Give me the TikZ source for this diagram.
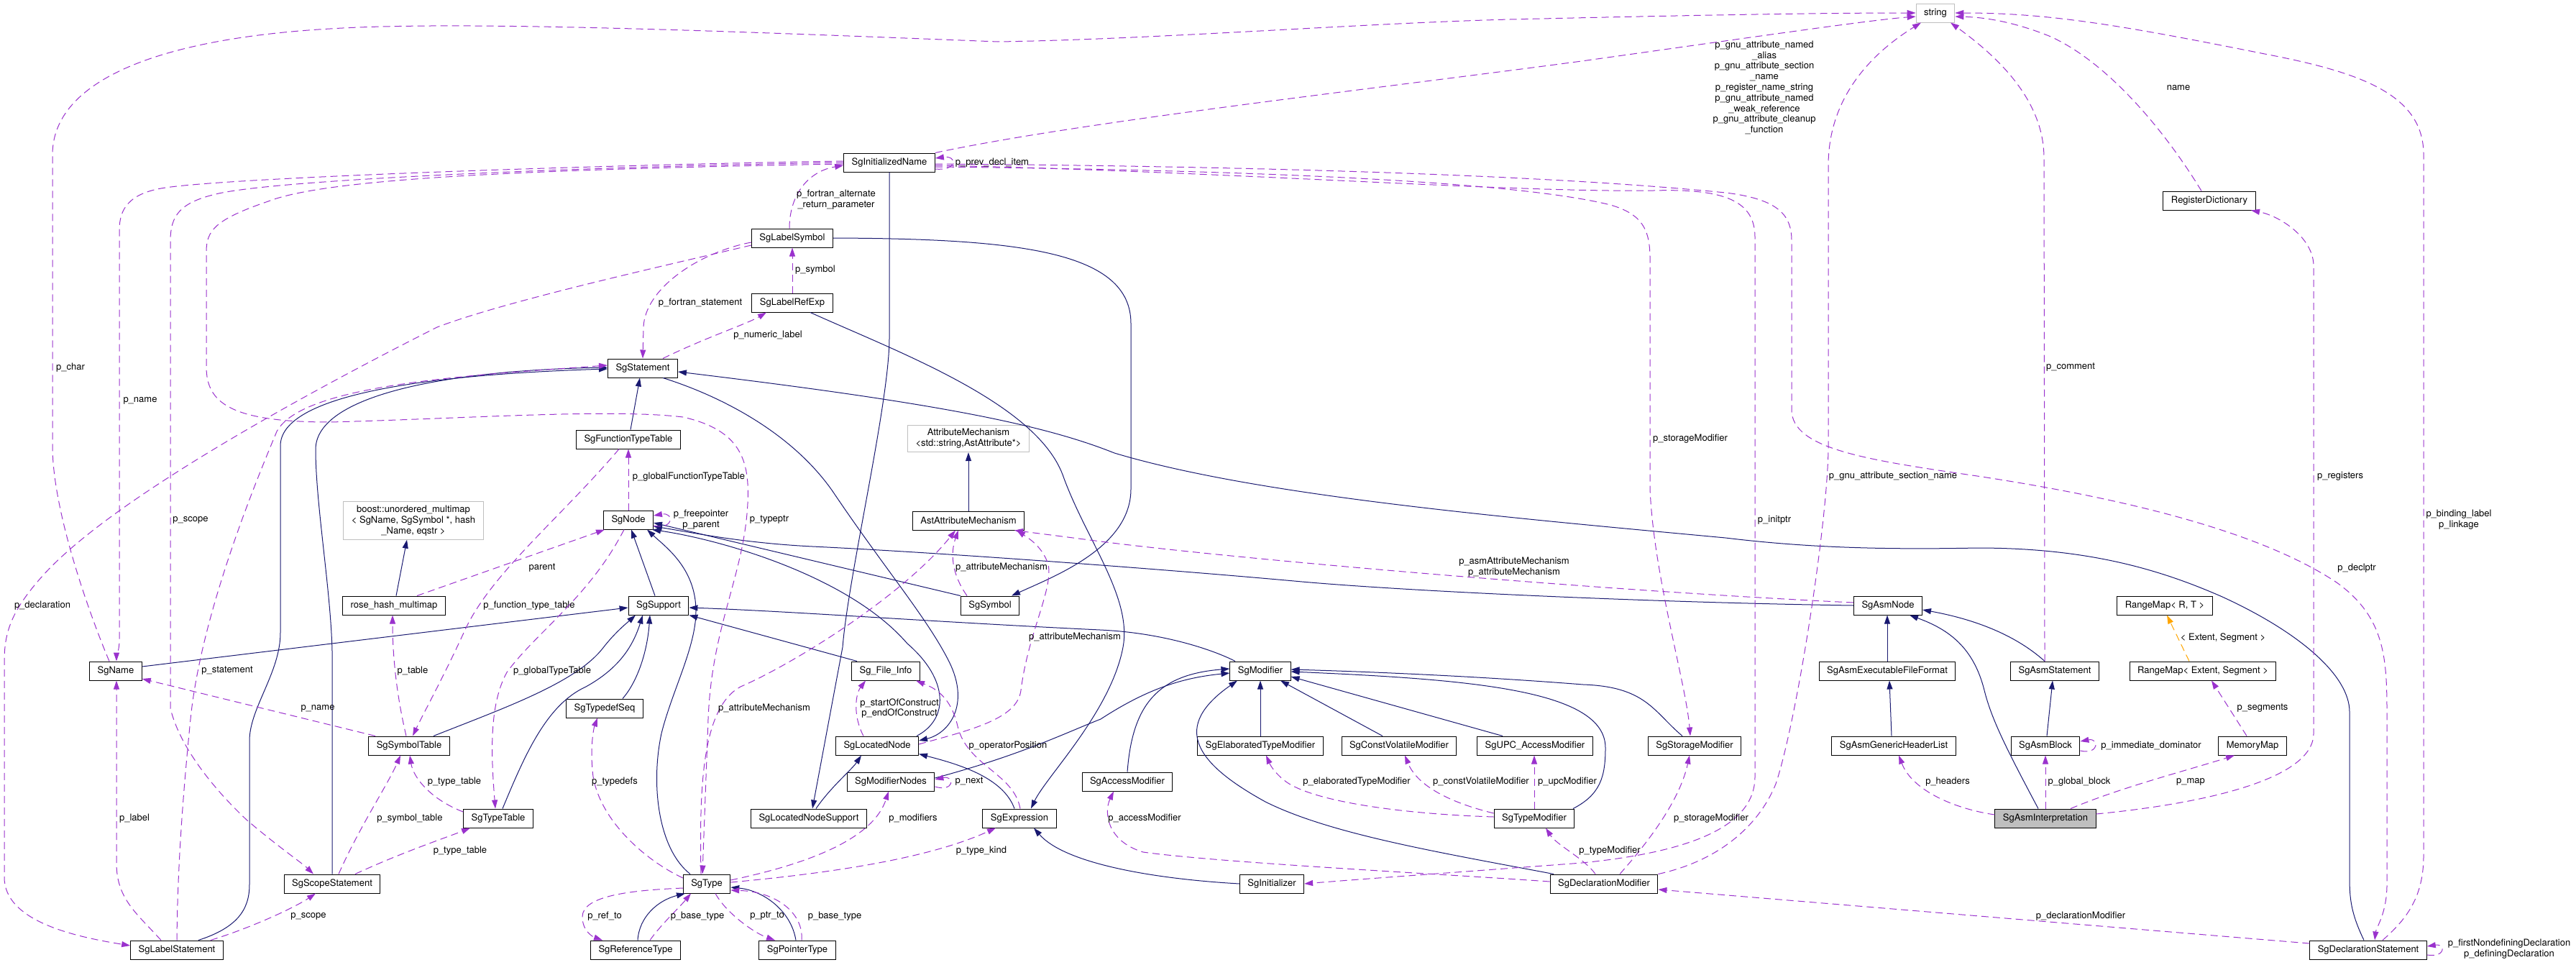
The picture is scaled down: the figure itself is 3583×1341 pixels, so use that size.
\documentclass[tikz,border=0pt]{standalone}
\usepackage{fontspec}
\setmainfont{TeX Gyre Heros}
\usetikzlibrary{arrows.meta}
\definecolor{inhcol}{HTML}{191970}
\definecolor{usecol}{HTML}{9A32CD}
\definecolor{tplcol}{HTML}{FFA500}
\definecolor{extcol}{HTML}{BFBFBF}

\begin{document}
\begin{tikzpicture}[
    x=1pt, y=-1pt,
    cls/.style={rectangle, draw=black, line width=1pt, fill=white, inner xsep=11pt, inner ysep=0pt, minimum height=26pt, font=\fontsize{13}{15}\selectfont},
    ext/.style={cls, draw=extcol, align=center, inner ysep=5pt},
    cur/.style={cls, fill=extcol},
    inh/.style={draw=inhcol, line width=1pt, -{Triangle[length=12pt,width=8pt]}},
    use/.style={draw=usecol, line width=1pt, dash pattern=on 10pt off 6pt, -{Triangle[length=12pt,width=8pt]}},
    tpl/.style={draw=tplcol, line width=1pt, dash pattern=on 10pt off 6pt, -{Triangle[length=12pt,width=8pt]}},
    lbl/.style={font=\fontsize{13}{14.8}\selectfont, inner sep=0pt, align=center}
]
\useasboundingbox (0,0) rectangle (3583,1341);

% Classes - top rows
\node[ext] (string) at (2692,18) {string};
\node[cls] (SgInitializedName) at (1237,226) {SgInitializedName};
\node[cls] (RegisterDictionary) at (3073,279) {RegisterDictionary};
\node[cls] (SgLabelSymbol) at (1102,331) {SgLabelSymbol};
\node[cls] (SgLabelRefExp) at (1102,421) {SgLabelRefExp};
\node[cls] (SgStatement) at (894,512) {SgStatement};
\node[cls] (SgFunctionTypeTable) at (874,611) {SgFunctionTypeTable};
\node[ext] (AttributeMechanism) at (1347,610) {AttributeMechanism\\<std::string,AstAttribute*>};
\node[ext] (boostmap) at (575,724) {boost::unordered\_multimap\\< SgName, SgSymbol *, hash\\\_Name, eqstr >};
\node[cls] (SgNode) at (874,723) {SgNode};
\node[cls] (AstAttributeMechanism) at (1347,724) {AstAttributeMechanism};
\node[cls] (rosemap) at (548,842) {rose\_hash\_multimap};
\node[cls] (SgSupport) at (916,842) {SgSupport};
\node[cls] (SgSymbol) at (1377,842) {SgSymbol};
\node[cls] (SgAsmNode) at (2626,842) {SgAsmNode};
\node[cls] (RangeMapRT) at (3011,842) {RangeMap< R, T >};

% Classes - middle rows
\node[cls] (SgName) at (161,933) {SgName};
\node[cls] (SgFileInfo) at (1232,933) {Sg\_File\_Info};
\node[cls] (SgModifier) at (1753,933) {SgModifier};
\node[cls] (SgAsmExecutableFileFormat) at (2625,933) {SgAsmExecutableFileFormat};
\node[cls] (SgAsmStatement) at (2858,933) {SgAsmStatement};
\node[cls] (RangeMapES) at (3064,933) {RangeMap< Extent, Segment >};
\node[cls] (SgTypedefSeq) at (841,985) {SgTypedefSeq};
\node[cls] (SgSymbolTable) at (569,1037) {SgSymbolTable};
\node[cls] (SgLocatedNode) at (1220,1037) {SgLocatedNode};
\node[cls] (SgElaboratedTypeModifier) at (1753,1037) {SgElaboratedTypeModifier};
\node[cls] (SgConstVolatileModifier) at (1946,1037) {SgConstVolatileModifier};
\node[cls] (SgUPCAccessModifier) at (2135,1037) {SgUPC\_AccessModifier};
\node[cls] (SgStorageModifier) at (2357,1037) {SgStorageModifier};
\node[cls] (SgAsmGenericHeaderList) at (2634,1037) {SgAsmGenericHeaderList};
\node[cls] (SgAsmBlock) at (2845,1037) {SgAsmBlock};
\node[cls] (MemoryMap) at (3133,1037) {MemoryMap};
\node[cls] (SgModifierNodes) at (1239,1087) {SgModifierNodes};
\node[cls] (SgAccessModifier) at (1568,1087) {SgAccessModifier};

% Classes - bottom rows
\node[cls] (SgTypeTable) at (693,1138) {SgTypeTable};
\node[cls] (SgLocatedNodeSupport) at (1125,1138) {SgLocatedNodeSupport};
\node[cls] (SgExpression) at (1418,1138) {SgExpression};
\node[cls] (SgTypeModifier) at (2134,1138) {SgTypeModifier};
\node[cur] (SgAsmInterpretation) at (2845,1138) {SgAsmInterpretation};
\node[cls] (SgScopeStatement) at (462,1229) {SgScopeStatement};
\node[cls] (SgType) at (983,1229) {SgType};
\node[cls] (SgInitializer) at (1769,1229) {SgInitializer};
\node[cls] (SgDeclarationModifier) at (2231,1229) {SgDeclarationModifier};
\node[cls] (SgLabelStatement) at (246,1321) {SgLabelStatement};
\node[cls] (SgReferenceType) at (884,1321) {SgReferenceType};
\node[cls] (SgPointerType) at (1109,1321) {SgPointerType};
\node[cls] (SgDeclarationStatement) at (3294,1321) {SgDeclarationStatement};

% Inheritance - statements and nodes
\draw[inh] ([xshift=3pt]SgFunctionTypeTable.north) -- ([xshift=-4pt]SgStatement.south);
\draw[inh] ([xshift=30pt]SgLabelStatement.north) .. controls (330,1290) and (347,1265) .. (347,1230) -- (347,1030) .. controls (347,985) and (390,935) .. (390,880) -- (390,620) .. controls (390,555) and (560,522) .. ([yshift=-1pt]SgStatement.west);
\draw[inh] (SgScopeStatement.north) -- (462,905) .. controls (460,820) and (439,700) .. (439,625) .. controls (439,550) and (620,515) .. ([yshift=1pt]SgStatement.west);
\draw[inh] ([xshift=28pt]SgStatement.south) .. controls (1000,550) and (1100,600) .. (1158,683) .. controls (1230,790) and (1290,860) .. (1320,920) .. controls (1350,980) and (1320,1020) .. ([yshift=7pt]SgLocatedNode.east);
\draw[inh] ([xshift=55pt]SgLocatedNode.north) .. controls (1320,1000) and (1320,945) .. (1262,895) .. controls (1180,800) and (1000,750) .. ([xshift=-2pt]SgNode.south east);
\draw[inh] (SgSymbol.north west) -- ([yshift=-4pt]SgNode.east);
\draw[inh] (SgAsmNode.west) .. controls (2300,838) and (1950,822) .. (1800,808) .. controls (1600,790) and (1300,768) .. (1130,760) .. controls (1030,755) and (960,740) .. ([yshift=-9pt]SgNode.east);
\draw[inh] ([xshift=-5pt]SgSupport.north) -- ([xshift=4pt]SgNode.south);
\draw[inh] ([xshift=-23pt]SgType.north) .. controls (915,1180) and (905,1090) .. (920,1020) .. controls (935,960) and (968,900) .. (968,850) .. controls (968,790) and (925,760) .. ([xshift=26pt]SgNode.south);
\draw[inh] ([yshift=6pt]SgName.east) -- ([yshift=-3pt]SgSupport.west);
\draw[inh] ([xshift=34pt]SgSymbolTable.north) .. controls (700,985) and (800,950) .. (838,902) .. controls (855,880) and (870,868) .. ([xshift=-32pt]SgSupport.south);
\draw[inh] ([xshift=6pt]SgTypeTable.north) .. controls (730,1050) and (760,980) .. (815,955) .. controls (860,930) and (880,900) .. ([xshift=-22pt]SgSupport.south);
\draw[inh] ([xshift=25pt]SgTypedefSeq.north) .. controls (885,950) and (900,910) .. ([xshift=-12pt]SgSupport.south);
\draw[inh] ([xshift=-40pt]SgFileInfo.north) -- (SgSupport.south east);
\draw[inh] ([xshift=-35pt]SgModifier.north) .. controls (1690,905) and (1620,880) .. (1530,876) .. controls (1300,865) and (1100,850) .. ([yshift=-3pt]SgSupport.east);
\draw[inh] ([xshift=10pt]SgLocatedNodeSupport.north) .. controls (1155,1095) and (1185,1070) .. ([xshift=-22pt]SgLocatedNode.south);
\draw[inh] ([xshift=-7pt]SgExpression.north) .. controls (1395,1080) and (1330,1062) .. ([yshift=2pt]SgLocatedNode.south east);
\draw[inh] (SgInitializedName.south) -- (1237,470) .. controls (1237,560) and (1180,800) .. (1172,900) -- ([xshift=5pt]SgLocatedNodeSupport.north);
\draw[inh] (SgLabelSymbol.east) .. controls (1420,332) and (1573,350) .. (1573,450) -- (1573,680) .. controls (1573,760) and (1470,800) .. ([xshift=30pt]SgSymbol.north);
\draw[inh] ([xshift=25pt]SgLabelRefExp.south) .. controls (1250,490) and (1440,560) .. (1478,660) .. controls (1510,750) and (1575,830) .. (1562,900) .. controls (1545,990) and (1455,1080) .. ([xshift=16pt]SgExpression.north);
\draw[inh] (SgInitializer.west) .. controls (1600,1222) and (1480,1200) .. ([xshift=20pt]SgExpression.south);
\draw[inh] ([xshift=3pt]SgReferenceType.north) .. controls (889,1275) and (915,1252) .. ([xshift=-30pt]SgType.south);
\draw[inh] ([xshift=-2pt]SgPointerType.north) .. controls (1100,1265) and (1060,1238) .. ([yshift=-5pt]SgType.east);
\draw[inh] ([xshift=-6pt]SgDeclarationStatement.north) .. controls (3270,1270) and (3268,1250) .. (3268,1220) -- (3268,990) .. controls (3268,940) and (3200,880) .. (3091,830) .. controls (3000,790) and (2900,762) .. (2750,762) .. controls (2600,765) and (2500,760) .. (2400,748) .. controls (2100,720) and (1750,690) .. (1550,630) .. controls (1450,590) and (1300,560) .. ([yshift=-5pt]SgStatement.east);
\draw[inh] ([xshift=3pt]rosemap.north) -- ([xshift=-9pt]boostmap.south);
\draw[inh] (AstAttributeMechanism.north) -- (AttributeMechanism.south);

% Inheritance - modifiers
\draw[inh] ([yshift=5pt]SgModifierNodes.east) .. controls (1420,1050) and (1480,1020) .. (1531,1000) .. controls (1600,955) and (1650,942) .. ([yshift=-3pt]SgModifier.west);
\draw[inh] (SgAccessModifier.north) .. controls (1575,980) and (1610,938) .. ([yshift=3pt]SgModifier.west);
\draw[inh] ([xshift=-70pt]SgDeclarationModifier.north) .. controls (2000,1185) and (1850,1160) .. (1760,1115) .. controls (1660,1060) and (1630,1010) .. ([xshift=-32pt]SgModifier.south);
\draw[inh] (SgElaboratedTypeModifier.north) -- (SgModifier.south);
\draw[inh] ([xshift=-23pt]SgConstVolatileModifier.north) -- ([xshift=28pt]SgModifier.south);
\draw[inh] ([xshift=-45pt]SgUPCAccessModifier.north) -- ([yshift=-8pt]SgModifier.east);
\draw[inh] ([xshift=54pt]SgTypeModifier.north) .. controls (2226,1105) and (2233,1080) .. (2233,1040) .. controls (2233,960) and (2050,945) .. ([yshift=-1pt]SgModifier.east);
\draw[inh] ([xshift=-17pt]SgStorageModifier.north) .. controls (2300,990) and (2290,955) .. (2202,952) .. controls (2050,940) and (1900,934) .. ([yshift=2pt]SgModifier.east);

% Inheritance - asm classes
\draw[inh] ([xshift=-10pt]SgAsmInterpretation.north) .. controls (2790,1040) and (2770,1000) .. (2760,960) .. controls (2745,900) and (2710,875) .. ([xshift=30pt]SgAsmNode.south);
\draw[inh] ([xshift=-14pt]SgAsmStatement.north) .. controls (2800,880) and (2740,860) .. ([yshift=-6pt]SgAsmNode.east);
\draw[inh] (SgAsmExecutableFileFormat.north) -- ([xshift=-1pt]SgAsmNode.south);
\draw[inh] ([xshift=-3pt]SgAsmGenericHeaderList.north) -- ([xshift=3pt]SgAsmExecutableFileFormat.south);
\draw[inh] ([xshift=2pt]SgAsmBlock.north) -- ([xshift=-3pt]SgAsmStatement.south);

% Template instance
\draw[tpl] ([xshift=-19pt]RangeMapES.north) -- ([xshift=3pt]RangeMapRT.south) node[lbl] at (3092,887) {< Extent, Segment >};

% Usage - string members
\draw[use] ([xshift=-9pt]SgName.north) .. controls (135,880) and (73,720) .. (73,620) -- (73,215) .. controls (73,120) and (200,55) .. (459,40) .. controls (650,28) and (1050,45) .. (1388,58) .. controls (1600,55) and (1900,32) .. (2100,27) .. controls (2400,20) and (2550,18) .. (string.west) node[lbl] at (98,511) {p\_char};
\draw[use] (SgInitializedName.north east) .. controls (1500,170) and (1900,125) .. (2200,85) .. controls (2450,50) and (2600,28) .. ([yshift=-5pt]string.west) node[lbl] at (2454,122) {p\_gnu\_attribute\_named\\\_alias\\p\_gnu\_attribute\_section\\\_name\\p\_register\_name\_string\\p\_gnu\_attribute\_named\\\_weak\_reference\\p\_gnu\_attribute\_cleanup\\\_function};
\draw[use] ([xshift=-14pt]SgAsmStatement.north) -- (2843,220) .. controls (2843,140) and (2780,80) .. ([xshift=21pt]string.south) node[lbl] at (2880,511) {p\_comment};
\draw[use] ([xshift=-11pt]RegisterDictionary.north) .. controls (3010,180) and (2930,85) .. (2850,50) .. controls (2800,30) and (2760,24) .. ([yshift=-5pt]string.east) node[lbl] at (3030,122) {name};
\draw[use] ([xshift=20pt]SgDeclarationStatement.north) .. controls (3345,1280) and (3371,1250) .. (3371,1190) -- (3371,215) .. controls (3371,130) and (3280,100) .. (3150,75) .. controls (2950,35) and (2850,18) .. (string.east) node[lbl] at (3420,723) {p\_binding\_label\\p\_linkage};
\draw[use] (SgDeclarationModifier.north east) .. controls (2400,1195) and (2450,1140) .. (2470,1090) .. controls (2500,1000) and (2543,720) .. (2543,620) -- (2543,230) .. controls (2543,130) and (2610,70) .. ([xshift=-20pt]string.south) node[lbl] at (2633,662) {p\_gnu\_attribute\_section\_name};

% Usage - asm interpretation
\draw[use] ([yshift=6pt]SgAsmInterpretation.east) .. controls (3060,1118) and (3218,1085) .. (3218,1020) -- (3218,370) .. controls (3218,330) and (3170,300) .. ([xshift=58pt]RegisterDictionary.south) node[lbl] at (3255,662) {p\_registers};
\draw[use] (SgAsmInterpretation.north) -- (SgAsmBlock.south) node[lbl] at (2892,1087) {p\_global\_block};
\draw[use] ([yshift=-7pt]SgAsmBlock.east) .. controls (2920,1050) and (2920,1026) .. ([yshift=6pt]SgAsmBlock.east) node[lbl] at (2992,1037) {p\_immediate\_dominator};
\draw[use] ([xshift=35pt]SgAsmInterpretation.north) .. controls (2950,1095) and (3040,1072) .. ([xshift=-25pt]MemoryMap.south) node[lbl] at (3047,1087) {p\_map};
\draw[use] ([xshift=-8pt]MemoryMap.north) -- ([xshift=12pt]RangeMapES.south) node[lbl] at (3147,985) {p\_segments};
\draw[use] ([yshift=5pt]SgAsmInterpretation.west) .. controls (2720,1125) and (2660,1100) .. ([xshift=7pt]SgAsmGenericHeaderList.south) node[lbl] at (2709,1087) {p\_headers};

% Usage - initialized name and declarations
\draw[use] ([yshift=-2pt]SgInitializedName.east) .. controls (1600,230) and (2100,238) .. (2400,268) .. controls (2475,277) and (2492,300) .. (2492,335) -- (2492,570) .. controls (2492,625) and (2600,640) .. (2750,662) .. controls (3000,700) and (3160,750) .. (3250,810) .. controls (3320,860) and (3320,920) .. (3320,1000) -- (3320,1230) .. controls (3320,1270) and (3305,1290) .. ([xshift=9pt]SgDeclarationStatement.north) node[lbl] at (3278,790) {p\_declptr};
\draw[use] ([yshift=-4pt]SgInitializedName.east) .. controls (1700,238) and (2100,268) .. (2300,265) .. controls (2400,262) and (2441,280) .. (2441,330) -- (2441,1080) .. controls (2441,1150) and (2350,1185) .. (2200,1200) .. controls (2000,1215) and (1900,1222) .. (SgInitializer.east) node[lbl] at (2468,723) {p\_initptr};
\draw[use] ([yshift=-6pt]SgInitializedName.east) .. controls (1700,236) and (2100,250) .. (2240,285) .. controls (2285,298) and (2295,320) .. (2295,360) -- (2295,680) .. controls (2300,800) and (2345,950) .. ([xshift=-6pt]SgStorageModifier.north) node[lbl] at (2351,610) {p\_storageModifier};
\draw[use] ([yshift=-9pt]SgInitializedName.east) .. controls (1332,238) and (1332,216) .. ([yshift=6pt]SgInitializedName.east) node[lbl] at (1380,226) {p\_prev\_decl\_item};
\draw[use] ([xshift=22pt]SgDeclarationModifier.north) .. controls (2280,1185) and (2335,1120) .. ([xshift=-7pt]SgStorageModifier.south) node[lbl] at (2380,1138) {p\_storageModifier};
\draw[use] ([xshift=-12pt]SgDeclarationModifier.north) .. controls (2205,1195) and (2165,1175) .. ([xshift=16pt]SgTypeModifier.south) node[lbl] at (2239,1183) {p\_typeModifier};
\draw[use] (SgTypeModifier.north) -- ([xshift=-1pt]SgUPCAccessModifier.south) node[lbl] at (2180,1087) {p\_upcModifier};
\draw[use] ([yshift=7pt]SgTypeModifier.west) .. controls (2000,1112) and (1968,1085) .. ([xshift=8pt]SgConstVolatileModifier.south) node[lbl] at (2060,1087) {p\_constVolatileModifier};
\draw[use] ([yshift=2pt]SgTypeModifier.west) .. controls (1950,1132) and (1830,1115) .. (1790,1088) .. controls (1772,1075) and (1766,1062) .. ([xshift=8pt]SgElaboratedTypeModifier.south) node[lbl] at (1887,1087) {p\_elaboratedTypeModifier};
\draw[use] ([yshift=9pt]SgDeclarationStatement.west) -- ([yshift=-8pt]SgDeclarationModifier.east) node[lbl] at (2894,1274) {p\_declarationModifier};
\draw[use] ([yshift=-7pt]SgDeclarationStatement.east) .. controls (3402,1332) and (3402,1312) .. ([yshift=5pt]SgDeclarationStatement.east) node[lbl] at (3490,1320) {p\_firstNondefiningDeclaration\\p\_definingDeclaration};
\draw[use] ([yshift=3pt]SgDeclarationModifier.west) .. controls (2000,1215) and (1700,1200) .. (1590,1185) .. controls (1540,1170) and (1535,1130) .. ([xshift=-19pt]SgAccessModifier.south) node[lbl] at (1592,1138) {p\_accessModifier};

% Usage - types and expressions
\draw[use] ([yshift=-7pt]SgModifierNodes.east) .. controls (1328,1102) and (1328,1078) .. ([yshift=3pt]SgModifierNodes.east) node[lbl] at (1348,1087) {p\_next};
\draw[use] ([yshift=5pt]SgType.east) .. controls (1130,1200) and (1215,1165) .. ([xshift=-3pt]SgModifierNodes.south) node[lbl] at (1270,1138) {p\_modifiers};
\draw[use] ([yshift=2pt]SgType.east) .. controls (1180,1212) and (1300,1190) .. ([xshift=-33pt]SgExpression.south) node[lbl] at (1365,1183) {p\_type\_kind};
\draw[use] ([yshift=8pt]SgType.west) .. controls (895,1195) and (835,1140) .. (825,1080) .. controls (820,1040) and (826,1012) .. ([xshift=-10pt]SgTypedefSeq.south) node[lbl] at (855,1087) {p\_typedefs};
\draw[use] ([yshift=-6pt]SgType.west) .. controls (880,1238) and (810,1245) .. (810,1275) .. controls (810,1295) and (825,1303) .. ([xshift=-46pt]SgReferenceType.north) node[lbl] at (841,1274) {p\_ref\_to};
\draw[use] ([xshift=20pt]SgReferenceType.north) .. controls (920,1285) and (945,1262) .. ([xshift=-22pt]SgType.south) node[lbl] at (970,1274) {p\_base\_type};
\draw[use] ([xshift=12pt]SgType.south) .. controls (1010,1270) and (1050,1298) .. ([xshift=-31pt]SgPointerType.north) node[lbl] at (1067,1274) {p\_ptr\_to};
\draw[use] ([xshift=6pt]SgPointerType.north) .. controls (1118,1270) and (1080,1240) .. ([yshift=-9pt]SgType.east) node[lbl] at (1161,1274) {p\_base\_type};
\draw[use] ([xshift=-8pt]SgType.north) .. controls (973,1100) and (975,985) .. (1030,955) .. controls (1100,925) and (1255,830) .. ([xshift=-18pt]AstAttributeMechanism.south) node[lbl] at (1063,985) {p\_attributeMechanism};
\draw[use] ([yshift=-2pt]SgInitializedName.west) .. controls (700,236) and (450,250) .. (373,280) .. controls (300,305) and (287,320) .. (287,350) -- (287,510) .. controls (287,560) and (320,587) .. (459,587) .. controls (650,582) and (850,568) .. (950,580) .. controls (1030,598) and (1043,640) .. (1040,700) .. controls (1035,800) and (990,870) .. (985,1000) -- ([xshift=-6pt]SgType.north) node[lbl] at (1070,723) {p\_typeptr};

% Usage - names, scopes and labels
\draw[use] ([yshift=2pt]SgInitializedName.west) .. controls (800,230) and (300,248) .. (224,262) .. controls (180,270) and (166,290) .. (166,320) -- (166,890) .. controls (166,905) and (162,912) .. ([xshift=1pt]SgName.north) node[lbl] at (195,557) {p\_name};
\draw[use] (SgInitializedName.west) .. controls (800,232) and (380,250) .. (300,270) .. controls (250,282) and (237,300) .. (237,335) -- (237,985) .. controls (250,1040) and (300,1100) .. (344,1141) .. controls (390,1180) and (420,1200) .. ([xshift=-26pt]SgScopeStatement.north) node[lbl] at (265,723) {p\_scope};
\draw[use] ([xshift=-4pt]SgLabelSymbol.north) .. controls (1098,270) and (1125,238) .. ([yshift=-4pt]SgInitializedName.west) node[lbl] at (1163,278) {p\_fortran\_alternate\\\_return\_parameter};
\draw[use] (SgLabelRefExp.north) -- (SgLabelSymbol.south) node[lbl] at (1134,375) {p\_symbol};
\draw[use] ([yshift=-6pt]SgLabelSymbol.west) .. controls (975,350) and (897,400) .. (895,455) -- (SgStatement.north) node[lbl] at (974,421) {p\_fortran\_statement};
\draw[use] ([yshift=-10pt]SgLabelSymbol.west) .. controls (900,375) and (700,420) .. (608,455) .. controls (400,560) and (150,700) .. (60,800) .. controls (15,850) and (6,880) .. (6,920) -- (6,1220) .. controls (6,1280) and (100,1302) .. ([yshift=6pt]SgLabelStatement.west) node[lbl] at (59,842) {p\_declaration};
\draw[use] ([xshift=28pt]SgStatement.north) .. controls (980,470) and (1040,450) .. ([xshift=-36pt]SgLabelRefExp.south) node[lbl] at (1068,466) {p\_numeric\_label};
\draw[use] (SgLabelStatement.north) .. controls (247,1200) and (255,1100) .. (265,1000) .. controls (280,850) and (360,660) .. (385,600) .. controls (420,535) and (650,522) .. ([yshift=4pt]SgStatement.west) node[lbl] at (316,933) {p\_statement};
\draw[use] ([xshift=-22pt]SgLabelStatement.north) .. controls (190,1270) and (162,1250) .. (162,1200) -- ([xshift=1pt]SgName.south) node[lbl] at (187,1138) {p\_label};
\draw[use] ([xshift=47pt]SgLabelStatement.north) .. controls (350,1290) and (410,1262) .. ([xshift=-23pt]SgScopeStatement.south) node[lbl] at (429,1274) {p\_scope};
\draw[use] ([xshift=-47pt]SgSymbolTable.north) -- ([yshift=-11pt]SgName.east) node[lbl] at (442,985) {p\_name};

% Usage - tables and node
\draw[use] ([xshift=-4pt]SgSymbolTable.north) .. controls (550,960) and (546,905) .. ([xshift=-2pt]rosemap.south) node[lbl] at (574,933) {p\_table};
\draw[use] ([xshift=-13pt]SgFunctionTypeTable.south) .. controls (780,720) and (680,800) .. (645,880) .. controls (615,945) and (590,990) .. ([xshift=5pt]SgSymbolTable.north) node[lbl] at (736,842) {p\_function\_type\_table};
\draw[use] (SgNode.north) -- (SgFunctionTypeTable.south) node[lbl] at (958,663) {p\_globalFunctionTypeTable};
\draw[use] ([yshift=-8pt]SgNode.east) .. controls (938,737) and (938,712) .. ([yshift=6pt]SgNode.east) node[lbl] at (975,723) {p\_freepointer\\p\_parent};
\draw[use] ([xshift=32pt]rosemap.north) -- ([xshift=-33pt]SgNode.south) node[lbl] at (754,790) {parent};
\draw[use] ([xshift=-6pt]SgNode.south) .. controls (820,830) and (745,880) .. (705,935) .. controls (680,980) and (683,1050) .. ([xshift=-4pt]SgTypeTable.north) node[lbl] at (768,933) {p\_globalTypeTable};
\draw[use] ([yshift=9pt]SgTypeTable.west) .. controls (600,1112) and (575,1082) .. ([xshift=1pt]SgSymbolTable.south) node[lbl] at (632,1087) {p\_type\_table};
\draw[use] ([xshift=9pt]SgScopeStatement.north) .. controls (500,1150) and (540,1090) .. ([xshift=-12pt]SgSymbolTable.south) node[lbl] at (570,1138) {p\_symbol\_table};
\draw[use] ([xshift=32pt]SgScopeStatement.north) .. controls (560,1185) and (620,1165) .. ([xshift=-39pt]SgTypeTable.south) node[lbl] at (640,1183) {p\_type\_table};

% Usage - attribute mechanism and file info
\draw[use] ([xshift=-32pt]SgSymbol.north) .. controls (1318,790) and (1325,760) .. ([xshift=-14pt]AstAttributeMechanism.south) node[lbl] at (1393,789) {p\_attributeMechanism};
\draw[use] ([yshift=4pt]SgAsmNode.west) .. controls (2200,820) and (1700,775) .. (1531,753) .. controls (1470,745) and (1430,740) .. ([xshift=64pt]AstAttributeMechanism.south) node[lbl] at (2106,789) {p\_asmAttributeMechanism\\p\_attributeMechanism};
\draw[use] ([yshift=2pt]SgLocatedNode.east) .. controls (1350,1015) and (1415,1000) .. (1420,960) .. controls (1430,880) and (1465,820) .. (1458,785) .. controls (1450,760) and (1430,748) .. ([xshift=67pt]AstAttributeMechanism.south) node[lbl] at (1495,886) {p\_attributeMechanism};
\draw[use] ([xshift=-19pt]SgLocatedNode.north) .. controls (1186,995) and (1190,965) .. ([xshift=-28pt]SgFileInfo.south) node[lbl] at (1251,985) {p\_startOfConstruct\\p\_endOfConstruct};
\draw[use] ([xshift=1pt]SgExpression.north) .. controls (1410,1075) and (1345,1065) .. (1332,1010) .. controls (1322,965) and (1295,955) .. ([xshift=42pt]SgFileInfo.south) node[lbl] at (1402,1037) {p\_operatorPosition};

\end{tikzpicture}
\end{document}
